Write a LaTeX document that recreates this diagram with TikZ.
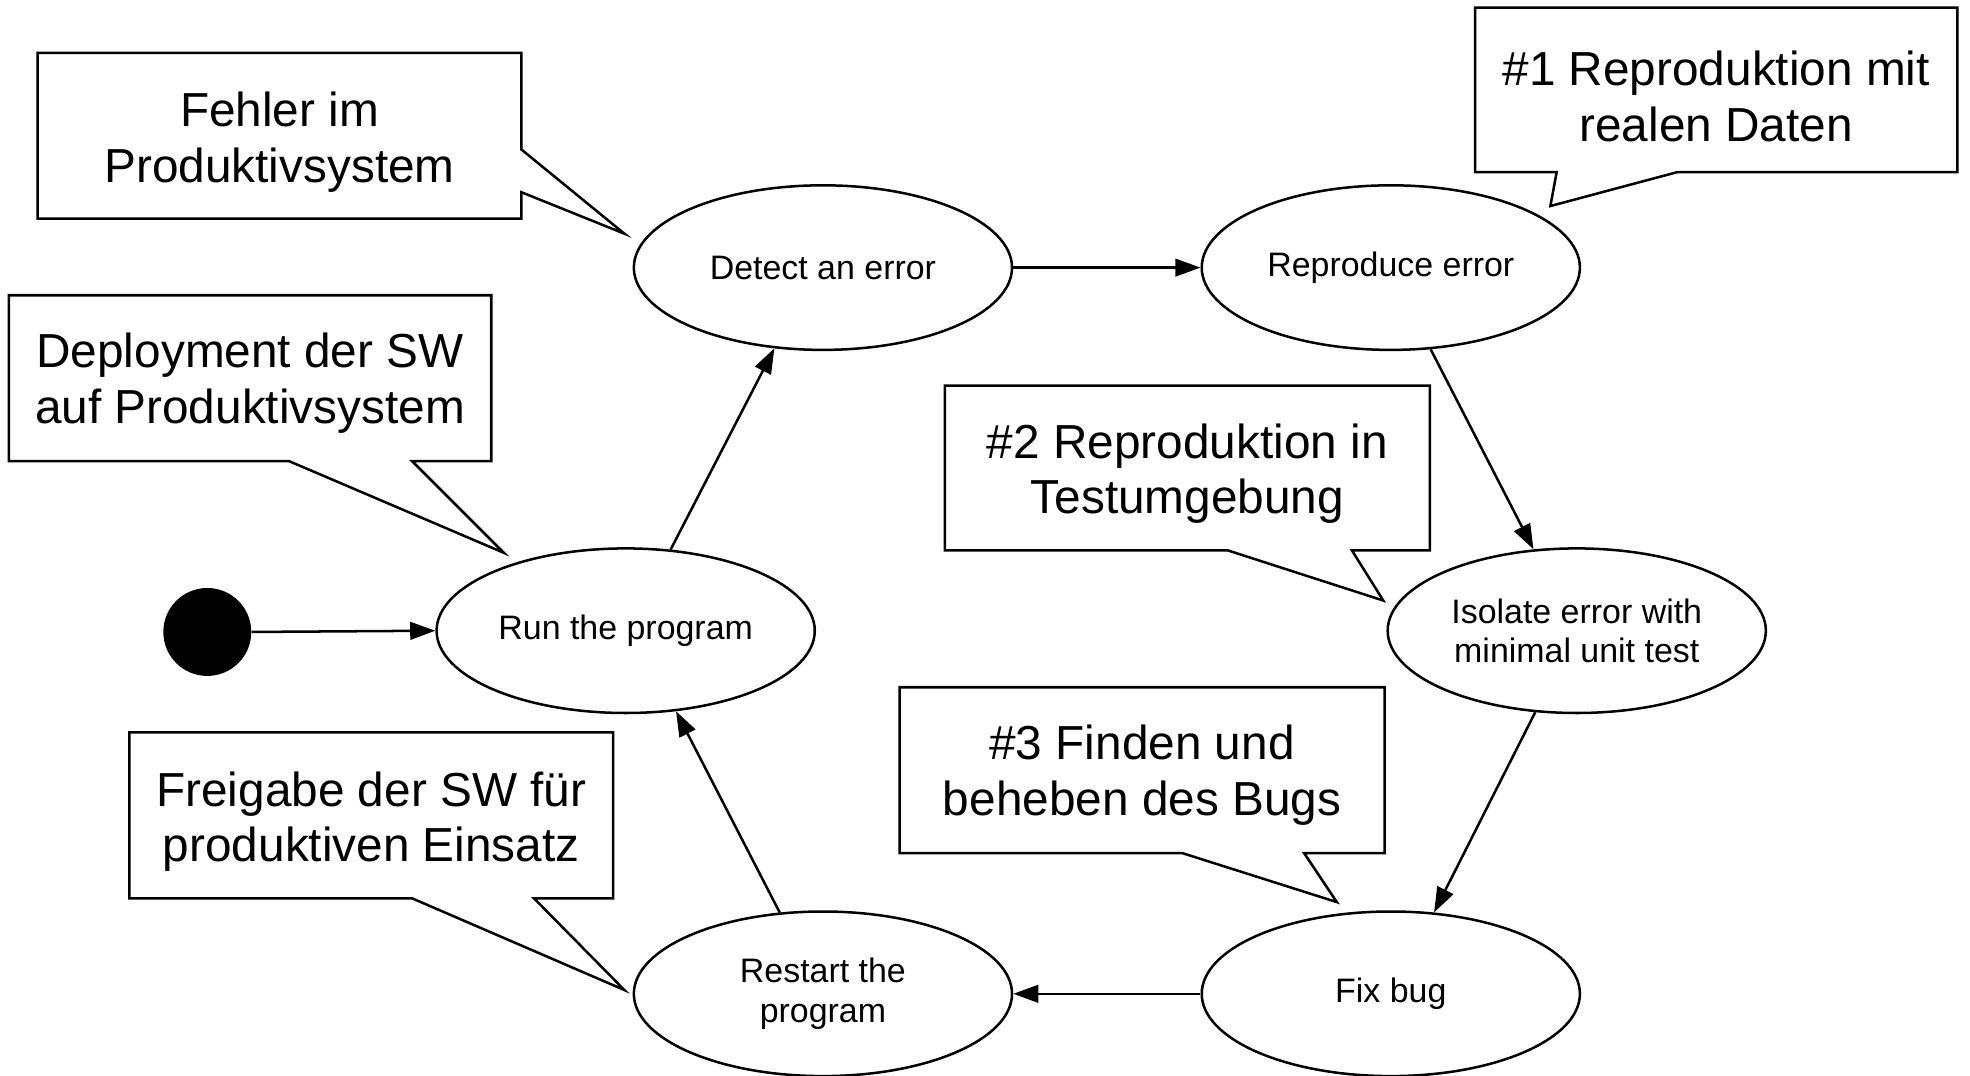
\documentclass[tikz,border=0pt]{standalone}
\usepackage{fontspec}
\setmainfont{Liberation Sans}
\usetikzlibrary{shapes.geometric,arrows.meta}
\begin{document}
\begin{tikzpicture}[x=1pt,y=-1pt,
  state/.style={ellipse,draw,line width=2pt,minimum width=301pt,minimum height=131pt,inner sep=0pt,align=center,font=\fontsize{27}{31.5}\selectfont},
  flow/.style={line width=2pt,-{Triangle[length=20pt,width=14pt]}},
  callout/.style={draw,line width=2pt,line join=miter,fill=white},
  note/.style={align=center,font=\fontsize{38}{44.5}\selectfont,inner sep=0pt}]
\useasboundingbox[fill=white] (0,0) rectangle (1568,856);

% callouts
\draw[callout] (30,42) -- (415,42) -- (415,119) -- (497,186) -- (415,153) -- (415,174) -- (30,174) -- cycle;
\node[note] (n1) at (222.5,113) {Fehler im\\Produktivsystem};
\draw[callout] (1174,6) -- (1558,6) -- (1558,137) -- (1335,137) -- (1234,164) -- (1239,137) -- (1174,137) -- cycle;
\node[note] (n2) at (1366,77) {\#1 Reproduktion mit\\realen Daten};
\draw[callout] (7,235) -- (391,235) -- (391,367) -- (328,367) -- (401,440) -- (230,367) -- (7,367) -- cycle;
\node[note] (n3) at (199,305) {Deployment der SW\\auf Produktivsystem};
\draw[callout] (752,307) -- (1138,307) -- (1138,438) -- (1076,438) -- (1101,478) -- (977,438) -- (752,438) -- cycle;
\node[note] (n4) at (945,377) {\#2 Reproduktion in\\Testumgebung};
\draw[callout] (716,547) -- (1102,547) -- (1102,679) -- (1038,679) -- (1064,718) -- (941,679) -- (716,679) -- cycle;
\node[note] (n5) at (909,617) {\#3 Finden und\\beheben des Bugs};
\draw[callout] (103,583) -- (488,583) -- (488,715) -- (425,715) -- (497,788) -- (328,715) -- (103,715) -- cycle;
\node[note] (n6) at (295.5,654) {Freigabe der SW für\\produktiven Einsatz};

% states
\node[circle,fill=black,minimum size=70pt,inner sep=0pt] (start) at (165,503) {};
\node[state] (run) at (498,502) {Run the program};
\node[state] (detect) at (655,213) {Detect an error};
\node[state] (repro) at (1107,213) {Reproduce error};
\node[state] (iso) at (1255,502) {Isolate error with\\minimal unit test};
\node[state] (fix) at (1107,791) {Fix bug};
\node[state] (restart) at (655,791) {Restart the\\program};

% flows
\draw[flow] (start.east) -- (run.west);
\draw[flow] (run.61) -- (detect.239);
\draw[flow] (detect.east) -- (repro.west);
\draw[flow] (repro.296) -- (iso.118);
\draw[flow] (iso.243) -- (fix.62);
\draw[flow] (fix.west) -- (restart.east);
\draw[flow] (restart.118) -- (run.302);
\end{tikzpicture}
\end{document}
